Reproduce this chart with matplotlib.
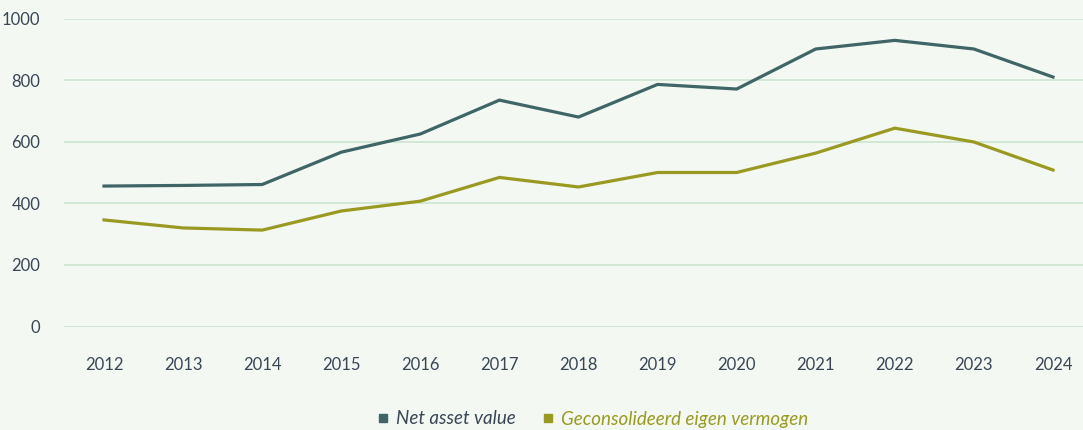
import matplotlib
matplotlib.use("Agg")
import matplotlib.pyplot as plt
from matplotlib.lines import Line2D

years = [2012, 2013, 2014, 2015, 2016, 2017, 2018, 2019, 2020, 2021, 2022, 2023, 2024]
nav = [456, 458, 461, 566, 625, 735, 680, 786, 771, 901, 929, 901, 810]
equity = [346, 320, 313, 375, 407, 484, 453, 500, 500, 563, 644, 599, 508]
series_names = ["Net asset value", "Geconsolideerd eigen vermogen"]
yticks = [0, 200, 400, 600, 800, 1000]

bg = "#f3f8f2"
c_nav = "#3f6566"
c_eq = "#9a9a22"
txt = "#3a4656"
grid_c = "#cfe6d2"

plt.rcParams['font.family'] = ['Lato', 'DejaVu Sans']

fig = plt.figure(figsize=(10.83, 4.30), dpi=100, facecolor=bg)
W, H = 1083, 430
ax = fig.add_axes([64 / W, 1 - 326.5 / H, (W - 64) / W, (326.5 - 18.5) / H])
ax.set_facecolor(bg)

ax.plot(years, nav, color=c_nav, lw=2.3, solid_joinstyle='miter', zorder=3)
ax.plot(years, equity, color=c_eq, lw=2.3, solid_joinstyle='miter', zorder=3)

px_per_year = (1053 - 104) / 12
ax.set_xlim(2012 - 40 / px_per_year, 2012 + (W - 104) / px_per_year)
ax.set_ylim(0, 1000)
ax.set_yticks(yticks)
ax.set_xticks(years)
ax.set_xticklabels([str(y) for y in years])
ax.yaxis.grid(True, color=grid_c, lw=1.3)
ax.set_axisbelow(True)
for s in ax.spines.values():
    s.set_visible(False)
ax.tick_params(axis='both', length=0, labelsize=12, colors=txt)
ax.tick_params(axis='y', pad=17)
ax.tick_params(axis='x', pad=22)

handles = [Line2D([], [], marker='s', ls='none', color=c_nav, markersize=6),
           Line2D([], [], marker='s', ls='none', color=c_eq, markersize=6)]
leg = fig.legend(handles, series_names, loc='center', bbox_to_anchor=(591 / W, 1 - 419 / H),
                 ncol=2, frameon=False, handletextpad=0.2, columnspacing=1.2,
                 handlelength=1.0, prop={'style': 'italic', 'size': 13.5})
for t, c in zip(leg.get_texts(), [txt, c_eq]):
    t.set_color(c)

fig.savefig("out.png", dpi=100, facecolor=bg)
